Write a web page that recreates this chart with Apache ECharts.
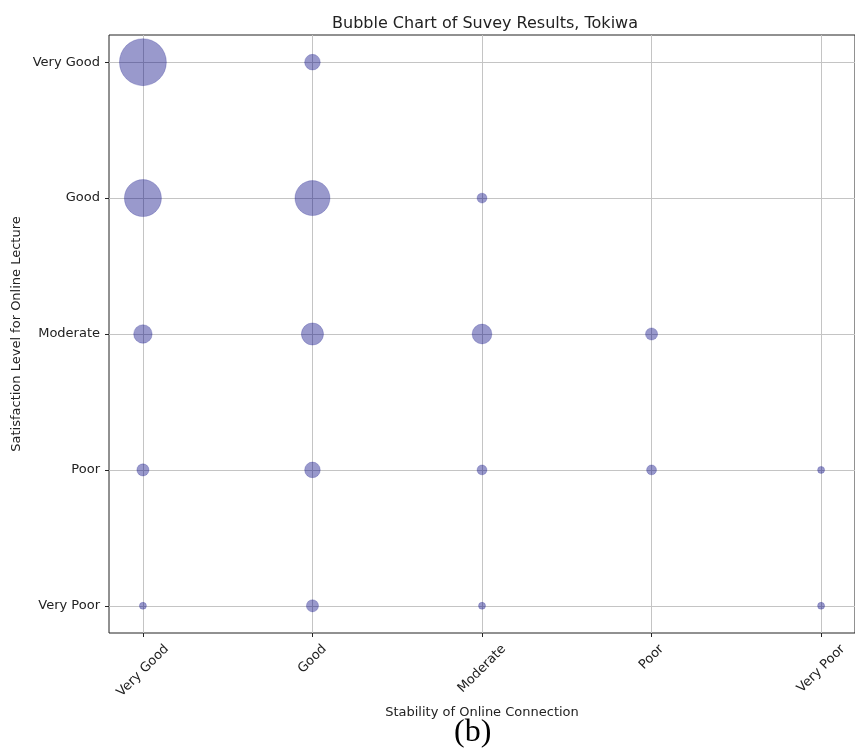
<!DOCTYPE html>
<html>
<head>
<meta charset="utf-8">
<script src="https://cdn.jsdelivr.net/npm/echarts@6/dist/echarts.min.js"></script>
<style>
  html, body { margin: 0; padding: 0; background: #fff; }
  #main { width: 855px; height: 756px; }
</style>
</head>
<body>
<div id="main"></div>
<script>
// categories (x = connection stability, y = satisfaction)
var stabilityLabels = ["Very Good", "Good", "Moderate", "Poor", "Very Poor"];
var satisfactionLabels = ["Very Poor", "Poor", "Moderate", "Good", "Very Good"];
var tickValues = [0, 1, 2, 3, 4];

// respondent counts per satisfaction level, in stabilityLabels order
var satVeryGood = [45, 5, 0, 0, 0];
var satGood = [28, 25, 2, 0, 0];
var satModerate = [7, 10, 8, 3, 0];
var satPoor = [3, 5, 2, 2, 1];
var satVeryPoor = [1, 3, 1, 0, 1];

var rows = [satVeryPoor, satPoor, satModerate, satGood, satVeryGood];
var bubbles = [];
rows.forEach(function (row, yi) {
  row.forEach(function (count, xi) {
    if (count > 0) bubbles.push([xi, yi, count]);
  });
});

var FONT = "DejaVu Sans";
var labelSize = 13;

// matplotlib centres rotated tick labels under the tick; emulate with padding per label
var ctx = document.createElement("canvas").getContext("2d");
ctx.font = labelSize + "px " + FONT;
var rich = {};
stabilityLabels.forEach(function (s, i) {
  var w = ctx.measureText(s).width;
  rich["s" + i] = {
    fontFamily: FONT,
    fontSize: labelSize,
    color: "#222",
    padding: [w * 0.5, w * 0.5, 0, 0]
  };
});

var myChart = echarts.init(document.getElementById("main"));

var option = {
  backgroundColor: "#fff",
  animation: false,
  title: {
    text: "Bubble Chart of Suvey Results, Tokiwa",
    left: 480,
    textAlign: "center",
    top: 11,
    textStyle: { fontFamily: FONT, fontSize: 16, fontWeight: "normal", color: "#222" }
  },
  grid: {
    left: 109,
    top: 35,
    right: -5,
    bottom: 123,
    show: true,
    borderColor: "#222",
    borderWidth: 1
  },
  xAxis: {
    type: "value",
    min: -0.2,
    max: 4.2,
    name: "Stability of Online Connection",
    nameLocation: "middle",
    nameGap: 73,
    nameMoveOverlap: false,
    nameTextStyle: { fontFamily: FONT, fontSize: 13, color: "#222" },
    axisLine: { show: false, onZero: false },
    axisTick: { show: true, inside: false, length: 4, customValues: tickValues, lineStyle: { color: "#222" } },
    axisLabel: {
      customValues: tickValues,
      rotate: 45,
      align: "center",
      verticalAlign: "middle",
      margin: 14,
      formatter: function (v) {
        var i = Math.round(v);
        return "{s" + i + "|" + stabilityLabels[i] + "}";
      },
      rich: rich
    },
    splitLine: { show: true, lineStyle: { color: "#c4c4c4", width: 1 } }
  },
  yAxis: {
    type: "value",
    min: -0.2,
    max: 4.2,
    name: "Satisfaction Level for Online Lecture",
    nameLocation: "middle",
    nameGap: 86,
    nameMoveOverlap: false,
    nameTextStyle: { fontFamily: FONT, fontSize: 13, color: "#222" },
    axisLine: { show: false, onZero: false },
    axisTick: { show: true, inside: false, length: 4, customValues: tickValues, lineStyle: { color: "#222" } },
    axisLabel: {
      customValues: tickValues,
      margin: 9,
      fontFamily: FONT,
      fontSize: labelSize,
      color: "#222",
      formatter: function (v) {
        return satisfactionLabels[Math.round(v)];
      }
    },
    splitLine: { show: true, lineStyle: { color: "#c4c4c4", width: 1 } }
  },
  graphic: [
    {
      type: "text",
      left: 454,
      top: 717,
      style: { text: "(b)", font: "32px 'Liberation Serif'", fill: "#000" }
    }
  ],
  series: [
    {
      type: "scatter",
      data: bubbles,
      symbolSize: function (v) {
        return Math.sqrt(v[2]) * 7;
      },
      itemStyle: {
        color: "rgba(0,0,128,0.5)",
        borderColor: "rgba(0,0,128,0.25)",
        borderWidth: 1
      }
    }
  ]
};

myChart.setOption(option);
</script>
</body>
</html>
